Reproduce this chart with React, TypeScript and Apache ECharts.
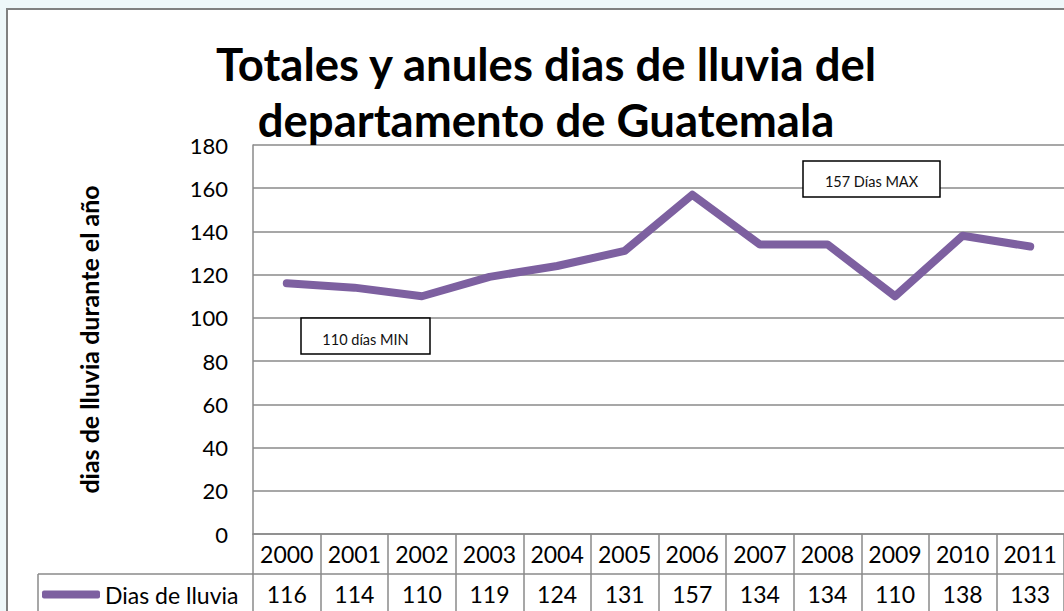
import React, { useEffect, useRef } from "react";
import * as echarts from "echarts";

const years = ["2000", "2001", "2002", "2003", "2004", "2005", "2006", "2007", "2008", "2009", "2010", "2011"];
const diasLluvia = [116, 114, 110, 119, 124, 131, 157, 134, 134, 110, 138, 133];
const seriesName = "Dias de lluvia";
const titleText = "Totales y anules dias de lluvia del\ndepartamento de Guatemala";
const yAxisName = "dias de lluvia durante el año";
const maxNote = "157 Días MAX";
const minNote = "110 días MIN";

const FONT = "Lato, 'Open Sans', sans-serif";
const GRID = "#8a8a8a";

export default function App() {
  const ref = useRef<HTMLDivElement>(null);
  useEffect(() => {
    document.body.style.margin = "0";
    const chart = echarts.init(ref.current!, null, { renderer: "svg" });
    const note = (x: number, y: number, w: number, h: number, text: string, textTop: number, cutY: number) => [
      { type: "rect", z: 100, shape: { x, y, width: w, height: h }, style: { fill: "#fff", stroke: "none" } },
      {
        type: "text", z: 101, x: x + w / 2, y: textTop,
        style: { text, fontSize: 14.5, fontFamily: FONT, fill: "#111", align: "center", verticalAlign: "top" },
      },
      { type: "rect", z: 102, shape: { x: x + 1, y: cutY, width: w - 2, height: y + h - cutY }, style: { fill: "#fff" } },
      { type: "rect", z: 103, shape: { x, y, width: w, height: h }, style: { fill: "none", stroke: "#000", lineWidth: 1.5 } },
    ];
    chart.setOption({
      animation: false,
      backgroundColor: "transparent",
      textStyle: { fontFamily: FONT },
      title: {
        text: titleText,
        left: 541,
        top: 30,
        textAlign: "center",
        textStyle: { fontSize: 45.5, fontWeight: "bold", color: "#000", lineHeight: 56, fontFamily: FONT },
      },
      legend: {
        left: 37,
        top: 578,
        padding: 5,
        icon: "roundRect",
        itemWidth: 58,
        itemHeight: 8,
        itemGap: 4,
        data: [seriesName],
        textStyle: { fontSize: 23, color: "#000", fontFamily: FONT, padding: [0, 0, 0, 0] },
      },
      grid: { left: 253, top: 145, width: 816, height: 389, containLabel: false },
      xAxis: [
        {
          type: "category",
          data: years,
          position: "bottom",
          boundaryGap: true,
          axisLine: { show: true, lineStyle: { color: GRID, width: 1.5 } },
          axisTick: { show: true, length: 77, interval: 0, alignWithLabel: false, lineStyle: { color: GRID, width: 1.5 } },
          axisLabel: { fontSize: 23, color: "#000", margin: 8, interval: 0, fontFamily: FONT },
        },
        {
          type: "category",
          data: diasLluvia.map(String),
          position: "bottom",
          offset: 40,
          boundaryGap: true,
          axisLine: { show: true, lineStyle: { color: GRID, width: 1.5 } },
          axisTick: { show: false },
          axisLabel: { fontSize: 23, color: "#000", margin: 8, interval: 0, fontFamily: FONT },
        },
      ],
      yAxis: {
        type: "value",
        min: 0,
        max: 180,
        interval: 20,
        name: yAxisName,
        nameLocation: "middle",
        nameGap: 152,
        nameRotate: 90,
        nameTextStyle: { fontSize: 25, fontWeight: "bold", color: "#000", fontFamily: FONT },
        axisLine: { show: true, lineStyle: { color: GRID, width: 1.5 } },
        axisTick: { show: false },
        splitLine: { show: true, lineStyle: { color: GRID, width: 1.5 } },
        axisLabel: { fontSize: 22, color: "#000", margin: 25, fontFamily: FONT },
      },
      series: [
        {
          name: seriesName,
          type: "line",
          data: diasLluvia,
          showSymbol: false,
          symbol: "none",
          lineStyle: { color: "#7D60A0", width: 8, cap: "round", join: "round" },
          itemStyle: { color: "#7D60A0" },
        },
      ],
      graphic: [
        { type: "rect", z: -10, silent: true, shape: { x: 7, y: 9, width: 1080, height: 620 }, style: { fill: "#fff", stroke: "#808080", lineWidth: 2 } },
        { type: "line", z: 5, shape: { x1: 38, y1: 574, x2: 253, y2: 574 }, style: { stroke: GRID, lineWidth: 1.5 } },
        { type: "line", z: 5, shape: { x1: 38, y1: 574, x2: 38, y2: 615 }, style: { stroke: GRID, lineWidth: 1.5 } },
        ...note(803, 161, 137, 36, maxNote, 174, 188),
        ...note(301, 318, 129, 36, minNote, 332, 346),
      ],
    });
    return () => chart.dispose();
  }, []);
  return (
    <div style={{ position: "absolute", left: 0, top: 0, width: 1064, height: 611, background: "#eef7f9", overflow: "hidden" }}>
      <div ref={ref} style={{ width: 1064, height: 611 }} />
    </div>
  );
}
